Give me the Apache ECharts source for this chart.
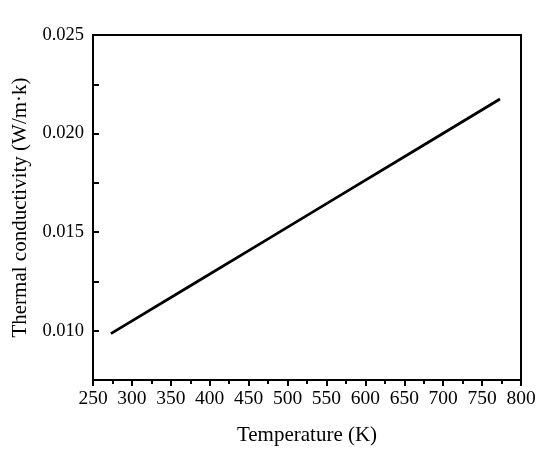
<!DOCTYPE html>
<html>
<head>
<meta charset="utf-8">
<script src="https://cdn.jsdelivr.net/npm/echarts@6/dist/echarts.min.js"></script>
<style>
  html, body { margin: 0; padding: 0; background: #fff; }
  #chart { width: 550px; height: 451px; }
</style>
</head>
<body>
<div id="chart"></div>
<script>
// temperature (K) and thermal conductivity (W/m·k)
const temperature = [273, 373, 473, 573, 673, 773]
const conductivity = [0.00985, 0.01223, 0.01461, 0.01699, 0.01937, 0.02175]

const chart = echarts.init(document.getElementById('chart'))
const font = '"Liberation Serif", "Times New Roman", serif'

chart.setOption({
  animation: false,
  grid: {
    left: 93,
    right: 29,
    top: 35,
    bottom: 71,
    outerBoundsMode: 'none',
    containLabel: false,
    show: true,
    borderColor: '#000',
    borderWidth: 2
  },
  xAxis: {
    type: 'value',
    min: 250,
    max: 800,
    interval: 50,
    name: 'Temperature (K)',
    nameLocation: 'middle',
    nameGap: 45,
    nameTextStyle: { fontFamily: font, fontSize: 21, color: '#000' },
    axisLine: { show: true, lineStyle: { color: '#000', width: 2 } },
    axisTick: { show: true, length: 6, lineStyle: { color: '#000', width: 2 } },
    minorTick: { show: true, splitNumber: 2, length: 4, lineStyle: { color: '#000', width: 2 } },
    axisLabel: { fontFamily: font, fontSize: 19.5, color: '#000', margin: 9 },
    splitLine: { show: false }
  },
  yAxis: {
    type: 'value',
    min: 0.0075,
    max: 0.025,
    interval: 0.0025,
    name: 'Thermal conductivity (W/m·k)',
    nameLocation: 'middle',
    nameGap: 60,
    nameTextStyle: { fontFamily: font, fontSize: 21, color: '#000' },
    axisLine: { show: true, lineStyle: { color: '#000', width: 2 } },
    axisTick: { show: true, inside: true, length: 6, lineStyle: { color: '#000', width: 2 } },
    axisLabel: {
      fontFamily: font,
      fontSize: 18.5,
      color: '#000',
      margin: 9,
      formatter: v => {
        const k = v / 0.005
        return Math.abs(k - Math.round(k)) < 1e-6 ? v.toFixed(3) : ''
      }
    },
    splitLine: { show: false }
  },
  series: [{
    type: 'line',
    data: temperature.map((t, i) => [t, conductivity[i]]),
    showSymbol: false,
    lineStyle: { color: '#000', width: 2.8 }
  }]
})
</script>
</body>
</html>
